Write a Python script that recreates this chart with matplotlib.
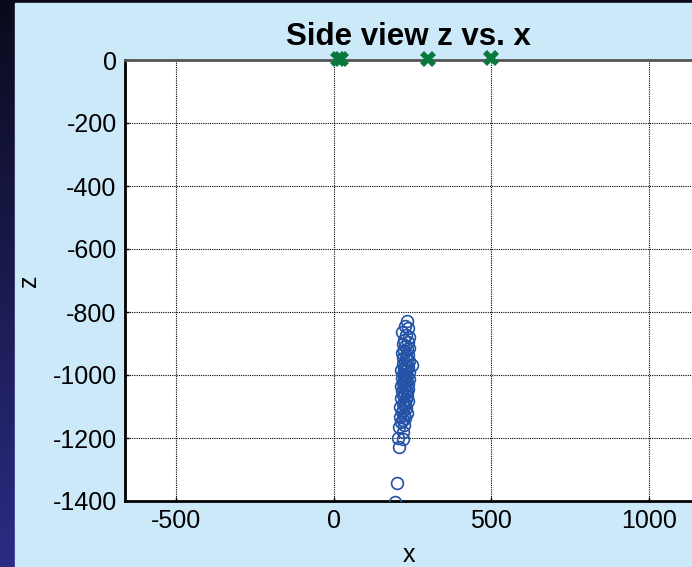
import numpy as np
import matplotlib.pyplot as plt
from matplotlib.patches import Rectangle

plt.rcParams['font.family'] = ['Liberation Sans', 'DejaVu Sans']
plt.rcParams['axes.unicode_minus'] = False

# event locations (x, z)
event_x = [232, 226, 236, 216, 229, 238, 222, 234, 219, 227, 240, 231, 224,
           217, 236, 228, 221, 233, 239, 225, 218, 230, 235, 248, 223, 214,
           229, 237, 220, 226, 232, 216, 238, 224, 230, 219, 234, 227, 212,
           222, 236, 229, 217, 233, 225, 220, 231, 214, 228, 235, 223, 218,
           226, 211, 230, 221, 216, 233, 224, 209, 227, 219, 213, 222, 206,
           219, 203, 219, 206, 200, 194]
event_z = [-829, -843, -852, -864, -872, -880, -888, -895, -901, -908, -913,
           -919, -924, -930, -936, -941, -946, -951, -957, -962, -966, -971,
           -975, -968, -980, -984, -988, -992, -996, -1000, -1004, -1008,
           -1012, -1016, -1020, -1024, -1028, -1032, -1035, -1039, -1043,
           -1047, -1051, -1055, -1059, -1063, -1068, -1072, -1076, -1081,
           -1086, -1091, -1096, -1100, -1105, -1110, -1116, -1121, -1127,
           -1132, -1138, -1143, -1150, -1158, -1165, -1180, -1200, -1203,
           -1229, -1343, -1403]

# station locations at the surface
station_x = [14, 24, 300, 500]
station_z = [4, 2, 2, 6]

xticks = [-500, 0, 500, 1000]
yticks = [0, -200, -400, -600, -800, -1000, -1200, -1400]

fig = plt.figure(figsize=(6.92, 5.67), dpi=100)

# dark slide background with a light panel on top
bg = fig.add_axes([0, 0, 1, 1], zorder=-10)
grad = np.linspace(0, 1, 256).reshape(-1, 1)
top = np.array([0.04, 0.04, 0.11])
bottom = np.array([0.17, 0.17, 0.52])
img = top + (bottom - top) * grad[:, :, None]
bg.imshow(img, aspect='auto', extent=[0, 1, 0, 1], origin='upper')
bg.add_patch(Rectangle((15 / 692, 0), 1, 1 - 3 / 567, color='#cce9f9'))
bg.set_xlim(0, 1)
bg.set_ylim(0, 1)
bg.axis('off')

ax = fig.add_axes([125 / 692, 66 / 567, 1 - 125 / 692, 441 / 567])
ax.set_facecolor('white')
ax.set_xlim(-663, 1137)
ax.set_ylim(-1400, 0)

ax.plot(event_x, event_z, 'o', mfc='none', mec='#2452a6', ms=8.5, mew=1.2,
        zorder=3)
ax.plot(station_x, station_z, 'X', color='#08783c', ms=11, mew=0,
        clip_on=False, zorder=4)

ax.set_xticks(xticks)
ax.set_yticks(yticks)
ax.tick_params(direction='in', length=3, width=1, labelsize=18, pad=6)
ax.grid(True, color='black', linestyle=(0, (1, 1)), linewidth=0.8)

for side in ['left', 'bottom']:
    ax.spines[side].set_linewidth(2)
ax.spines['top'].set_linewidth(2)
ax.spines['top'].set_color('#555555')
ax.spines['right'].set_visible(False)

ax.set_title('Side view z vs. x', fontsize=22.5, fontweight='bold', pad=11)
ax.set_xlabel('x', fontsize=18, labelpad=7)
ax.set_ylabel('z', fontsize=18, labelpad=8)

fig.savefig('out.png', dpi=100)
